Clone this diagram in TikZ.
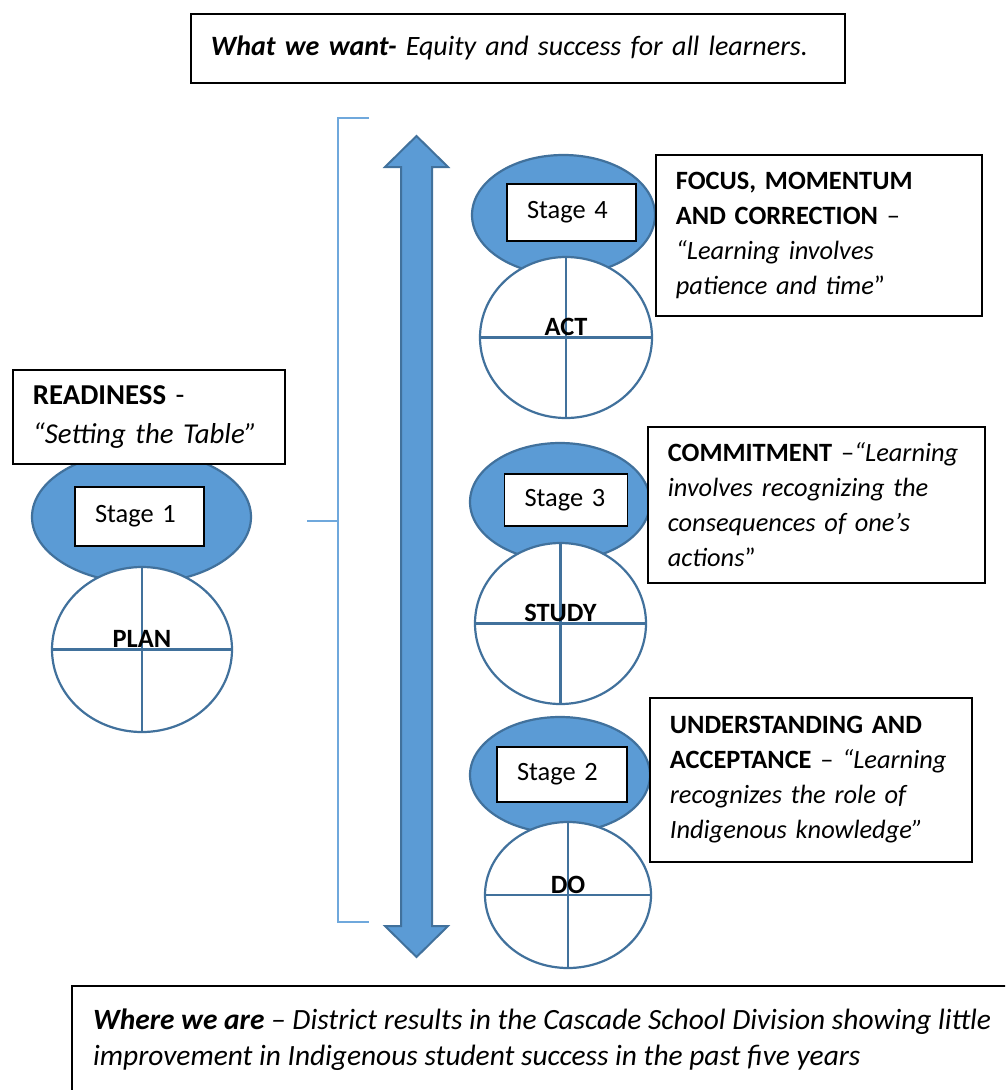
\documentclass[tikz,border=0pt]{standalone}
\usepackage{fontspec}
\setmainfont{Carlito}
\usetikzlibrary{shapes.geometric}
\definecolor{sfill}{HTML}{5B9BD5}
\definecolor{sline}{HTML}{41719C}
\definecolor{brk}{HTML}{6FA8DC}
\tikzset{
  stageell/.style={ellipse, draw=sline, fill=sfill, line width=2.2pt, inner sep=0pt},
  pdsa/.style={ellipse, draw=sline, fill=white, line width=2.2pt, inner sep=0pt},
  quad/.style={draw=sline, line width=2.2pt},
  stagebox/.style={draw=black, fill=white, line width=1.6pt, inner xsep=20pt, inner ysep=0pt, align=left, font=\fontsize{26.4}{32}\selectfont},
  tbox/.style={draw=black, fill=white, line width=1.8pt, anchor=north west, inner xsep=20pt, inner ysep=0pt, align=left, font=\fontsize{26.4}{35}\selectfont},
  plabel/.style={anchor=base, inner sep=0pt, font=\fontsize{26.4}{32}\selectfont\bfseries},
  bracketline/.style={draw=brk, line width=1.5pt},
  bigarrow/.style={draw=sline, fill=sfill, line width=2pt, line join=miter}
}
\begin{document}
\begin{tikzpicture}[x=1pt,y=-1pt]
\useasboundingbox (0,0) rectangle (1005,1090);
\clip (0,0) rectangle (1005,1090);
\fill[white] (0,0) rectangle (1005,1090);

% top box
\node[tbox, text width=614pt, minimum height=69pt, font=\fontsize{28}{34}\selectfont] (want) at (190,13)
  {\textbf{\textit{What we want-}} \textit{Equity and success for all learners.}};

% bracket
\draw[bracketline] (369,118) -- (338,118) -- (338,922) -- (369,922);
\draw[bracketline] (307,521) -- (338,521);

% double arrow
\draw[bigarrow] (416.5,136) -- (448,167) -- (432,167) -- (432,926) -- (448,926)
  -- (416.5,957) -- (385,926) -- (401,926) -- (401,167) -- (385,167) -- cycle;

% Stage 4 / ACT
\node[stageell, minimum width=183pt, minimum height=120pt] (e4) at (563.5,215) {};
\node[pdsa, minimum width=172pt, minimum height=161pt] (act) at (566,337.5) {};
\draw[quad] (act.north) -- (act.south) (act.west) -- (act.east);
\node[plabel] (actl) at ([yshift=2pt]act.center) {ACT};
\node[stagebox, text width=89pt, minimum height=57pt] (s4) at (571.5,212.5) {Stage 4};

% Stage 3 / STUDY
\node[stageell, minimum width=180pt, minimum height=118pt] (e3) at (560,502) {};
\node[pdsa, minimum width=171pt, minimum height=161pt] (study) at (560.5,623.5) {};
\draw[quad] (study.north) -- (study.south) (study.west) -- (study.east);
\node[plabel] (studyl) at ([yshift=2pt]study.center) {STUDY};
\node[stagebox, text width=83pt, minimum height=52pt] (s3) at (566,500) {Stage 3};

% Stage 2 / DO
\node[stageell, minimum width=180pt, minimum height=116pt] (e2) at (560,775) {};
\node[pdsa, minimum width=166pt, minimum height=146pt] (do) at (568,895) {};
\draw[quad] (do.north) -- (do.south) (do.west) -- (do.east);
\node[plabel] (dol) at ([yshift=2pt]do.center) {DO};
\node[stagebox, text width=90pt, minimum height=55pt] (s2) at (562,774.5) {Stage 2};

% Stage 1 / PLAN
\node[stageell, minimum width=219pt, minimum height=132pt] (e1) at (141.5,517) {};
\node[pdsa, minimum width=180pt, minimum height=165pt] (plan) at (142,649.5) {};
\draw[quad] (plan.north) -- (plan.south) (plan.west) -- (plan.east);
\node[plabel] (planl) at ([yshift=2pt]plan.center) {PLAN};
\node[stagebox, text width=89pt, minimum height=59pt] (s1) at (139.5,516.5) {Stage 1};

% description boxes
\node[tbox, text width=286pt, minimum height=161pt] (focus) at (655,154)
  {\textbf{FOCUS, MOMENTUM}\\\textbf{AND CORRECTION} –\\\textit{“Learning involves}\\\textit{patience and time}”};
\node[tbox, text width=297pt, minimum height=156pt] (commit) at (647,426)
  {\textbf{COMMITMENT} –\textit{“Learning}\\\textit{involves recognizing the}\\\textit{consequences of one’s}\\\textit{actions}”};
\node[tbox, text width=282pt, minimum height=164pt] (underst) at (649,697)
  {\textbf{UNDERSTANDING AND}\\\textbf{ACCEPTANCE} – \textit{“Learning}\\\textit{recognizes the role of}\\\textit{Indigenous knowledge”}};
\node[tbox, text width=232pt, minimum height=94pt, font=\fontsize{28.8}{39}\selectfont] (ready) at (12,369)
  {\textbf{READINESS} -\\\textit{“Setting the Table”}};

% bottom box
\draw[draw=black, line width=1.8pt] (72,1100) -- (72,986) -- (1015,986);
\node[anchor=base west, inner sep=0pt, align=left, font=\fontsize{29.4}{36}\selectfont] (where) at (93,1065)
  {\textbf{\textit{Where we are}} \textit{– District results in the Cascade School Division showing little}\\\textit{improvement in Indigenous student success in the past five years}};
\end{tikzpicture}
\end{document}
